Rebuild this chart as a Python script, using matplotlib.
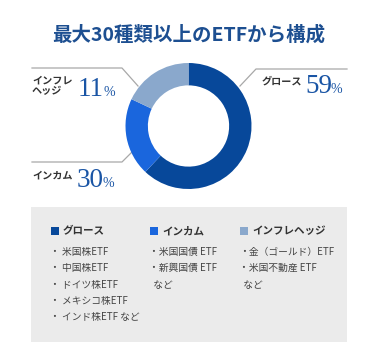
import matplotlib
matplotlib.use("Agg")
import matplotlib.pyplot as plt
from matplotlib.patches import Rectangle

plt.rcParams['font.family'] = ['Noto Sans CJK JP', 'DejaVu Sans']

title = "最大30種類以上のETFから構成"
categories = ["グロース", "インカム", "インフレヘッジ"]
slice_shares = [62, 20, 18]          # angular share as drawn in the ring
label_values = [59, 30, 11]          # percentages printed next to the ring
colors = ["#07489a", "#1a66dd", "#8aa8cc"]
ring_labels = ["グロース", "インカム", "インフレ\nヘッジ"]
items = [
    ["・ 米国株ETF", "・ 中国株ETF", "・ ドイツ株ETF", "・ メキシコ株ETF", "・ インド株ETF など"],
    ["・米国国債 ETF", "・新興国債 ETF", "  など"],
    ["・金（ゴールド）ETF", "・米国不動産 ETF", "  など"],
]

W, H = 368, 358
fig = plt.figure(figsize=(W / 100, H / 100), dpi=100)
fig.patch.set_facecolor("white")

ax = fig.add_axes([0, 0, 1, 1])
ax.set_xlim(0, W)
ax.set_ylim(H, 0)
ax.axis("off")

# title
ax.text(189, 35, title, ha="center", va="center", fontsize=14,
        fontweight="bold", color="#1d4f91")

# donut
cx, cy, r = 188.5, 126, 63
pax = fig.add_axes([(cx - r) / W, 1 - (cy + r) / H, 2 * r / W, 2 * r / H])
pax.pie(slice_shares, colors=colors, startangle=90, counterclock=False,
        radius=1, wedgeprops=dict(width=0.355, edgecolor="none"))
pax.set_xlim(-1, 1)
pax.set_ylim(-1, 1)
pax.axis("off")

# leader lines
lc = "#a8a8a8"
ax.plot([240, 256, 347], [86, 69, 69], color=lc, lw=0.9)
ax.plot([32, 122, 138], [68, 68, 86], color=lc, lw=0.9)
ax.plot([32, 122, 133], [162, 162, 151], color=lc, lw=0.9)

num_color = "#1a55a5"
serif = ["Liberation Serif", "DejaVu Serif"]

def ring_label(tx, ty, label, nx, base, val):
    ax.text(tx, ty, label, ha="left", va="center", fontsize=7.3,
            fontweight="bold", color="#333333", linespacing=1.05)
    ax.text(nx, base, str(val), ha="left", va="baseline", fontsize=19.5,
            family=serif, color=num_color)
    ax.text(nx + 13.3 * len(str(val)) - 1, base, "%", ha="left", va="baseline",
            fontsize=10, family=serif, color=num_color)

ring_label(262, 81.5, ring_labels[0], 305, 93, label_values[0])
ring_label(32, 176, ring_labels[1], 77, 187, label_values[1])
ring_label(32, 86, ring_labels[2], 78, 96, label_values[2])

# legend box
ax.add_patch(Rectangle((31, 207), 316, 135, facecolor="#ebebeb", edgecolor="none"))
col_x = [51, 150, 240]
for i, cat in enumerate(categories):
    x = col_x[i]
    ax.add_patch(Rectangle((x, 227), 7.5, 7.5, facecolor=colors[i], edgecolor="none"))
    ax.text(x + 12, 231.5, cat, ha="left", va="center", fontsize=7.6,
            fontweight="bold", color="#333333")
    for j, it in enumerate(items[i]):
        ax.text(x - 1, 252 + j * 16.3, it, ha="left", va="center", fontsize=7,
                color="#444444")

fig.savefig("out.png", dpi=100, facecolor="white")
